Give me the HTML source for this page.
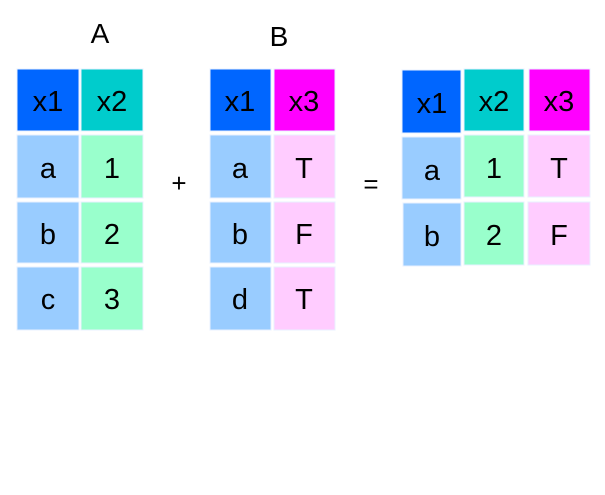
<!DOCTYPE html>
<html><head><style>body{margin:0;background:#fff}svg{display:block}</style></head>
<body>
<svg width="605" height="495" xmlns="http://www.w3.org/2000/svg" font-family="Liberation Sans, sans-serif" font-size="29" text-anchor="middle">
<rect width="605" height="495" fill="#fff"/>
<g stroke="#e8f0ff" stroke-width="1">
<rect x="17" y="69" width="62" height="62" fill="#0066ff"/>
<rect x="81" y="69" width="62" height="62" fill="#00cccc"/>
<rect x="17" y="135" width="62" height="63" fill="#99ccff"/>
<rect x="81" y="135" width="62" height="63" fill="#99ffcc"/>
<rect x="17" y="202" width="62" height="61" fill="#99ccff"/>
<rect x="81" y="202" width="62" height="61" fill="#99ffcc"/>
<rect x="17" y="267" width="62" height="63" fill="#99ccff"/>
<rect x="81" y="267" width="62" height="63" fill="#99ffcc"/>
<rect x="210" y="69" width="61" height="62" fill="#0066ff"/>
<rect x="274" y="69" width="61" height="62" fill="#ff00ff"/>
<rect x="210" y="135" width="61" height="63" fill="#99ccff"/>
<rect x="274" y="135" width="61" height="63" fill="#ffccff"/>
<rect x="210" y="202" width="61" height="61" fill="#99ccff"/>
<rect x="274" y="202" width="61" height="61" fill="#ffccff"/>
<rect x="210" y="267" width="61" height="63" fill="#99ccff"/>
<rect x="274" y="267" width="61" height="63" fill="#ffccff"/>
<rect x="402" y="70" width="59" height="63" fill="#0066ff"/>
<rect x="464" y="69" width="60" height="62" fill="#00cccc"/>
<rect x="529" y="69" width="61" height="62" fill="#ff00ff"/>
<rect x="402" y="137" width="59" height="62" fill="#99ccff"/>
<rect x="464" y="135" width="60" height="62" fill="#99ffcc"/>
<rect x="528" y="135" width="62" height="62" fill="#ffccff"/>
<rect x="403" y="203" width="58" height="63" fill="#99ccff"/>
<rect x="464" y="202" width="60" height="63" fill="#99ffcc"/>
<rect x="528" y="202" width="62" height="63" fill="#ffccff"/>
</g>
<g fill="#000">
<text x="100" y="43" font-size="28">A</text>
<text x="279" y="46" font-size="28">B</text>
<text x="48" y="111">x1</text><text x="112" y="111">x2</text>
<text x="48" y="178">a</text><text x="112" y="178">1</text>
<text x="48" y="244">b</text><text x="112" y="244">2</text>
<text x="48" y="309">c</text><text x="112" y="309">3</text>
<text x="179" y="192" font-size="26">+</text>
<text x="240" y="111">x1</text><text x="304" y="111">x3</text>
<text x="240" y="178">a</text><text x="304" y="178">T</text>
<text x="240" y="244">b</text><text x="304" y="244">F</text>
<text x="240" y="309">d</text><text x="304" y="309">T</text>
<text x="371" y="193" font-size="26">=</text>
<text x="432" y="113">x1</text><text x="494" y="111">x2</text><text x="559" y="111">x3</text>
<text x="432" y="180">a</text><text x="494" y="178">1</text><text x="559" y="178">T</text>
<text x="432" y="246">b</text><text x="494" y="245">2</text><text x="559" y="245">F</text>
</g>
</svg>
</body></html>
